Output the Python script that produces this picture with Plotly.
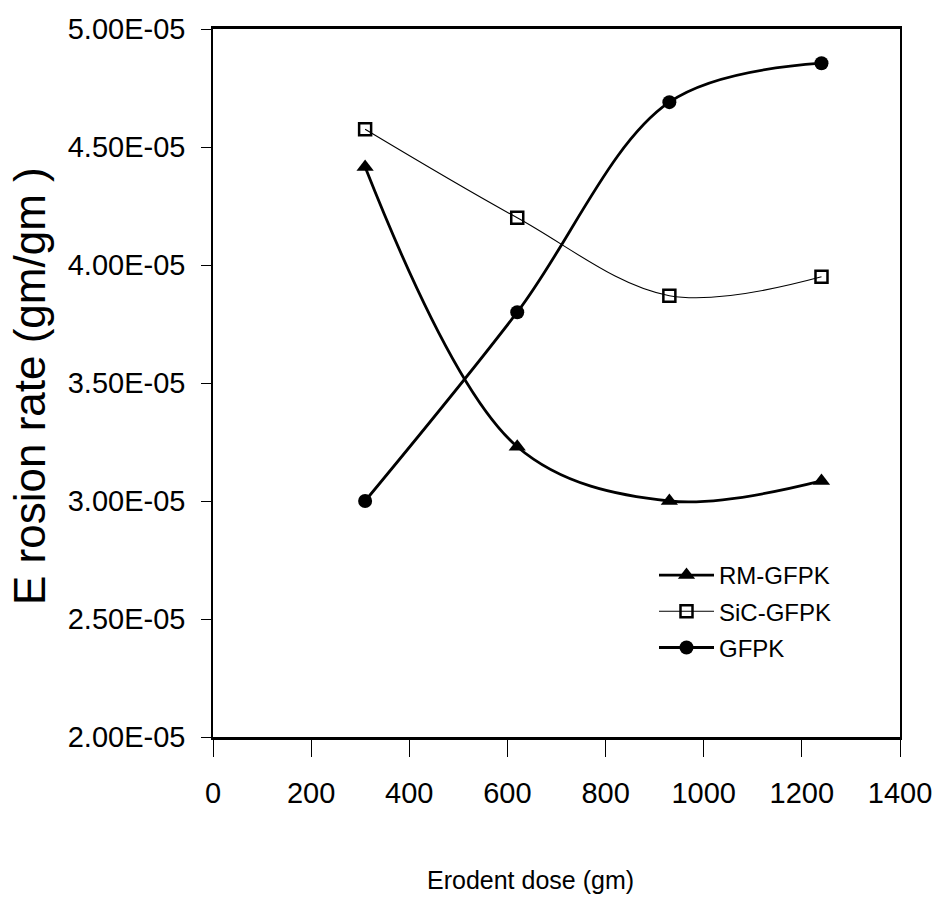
import plotly.graph_objects as go

dose = [310, 620, 930, 1240]
rm_gfpk = [4.415e-05, 3.23e-05, 3.00e-05, 3.085e-05]
sic_gfpk = [4.575e-05, 4.20e-05, 3.87e-05, 3.95e-05]
gfpk = [3.00e-05, 3.80e-05, 4.69e-05, 4.855e-05]

y_ticks = [2.0e-05, 2.5e-05, 3.0e-05, 3.5e-05, 4.0e-05, 4.5e-05, 5.0e-05]
y_ticktext = [f"{v:.2E}" for v in y_ticks]
x_ticks = [0, 200, 400, 600, 800, 1000, 1200, 1400]

x_title = "Erodent dose (gm)"
y_title = "E rosion rate (gm/gm )"

FONT = "Liberation Sans, Arial, sans-serif"

L, R, T, B = 213, 36, 29, 183
W, H = 936, 920
PW, PH = W - L - R, H - T - B

fig = go.Figure()
fig.add_trace(go.Scatter(
    x=dose, y=rm_gfpk, name="RM-GFPK", mode="lines+markers", legendgroup="a",
    line=dict(color="black", width=2.8, shape="spline", smoothing=1.0),
    marker=dict(symbol="triangle-up", size=15, color="black"),
))
fig.add_trace(go.Scatter(
    x=dose, y=sic_gfpk, name="SiC-GFPK", mode="lines+markers", legendgroup="b",
    line=dict(color="black", width=1.1, shape="spline", smoothing=1.0),
    marker=dict(symbol="square-open", size=12, color="black", line=dict(width=2.5, color="black")),
))
fig.add_trace(go.Scatter(
    x=dose, y=gfpk, name="GFPK", mode="lines+markers", legendgroup="c",
    line=dict(color="black", width=2.8, shape="spline", smoothing=1.0),
    marker=dict(symbol="circle", size=14, color="black"),
))

fig.update_layout(
    width=W, height=H,
    margin=dict(l=L, r=R, t=T, b=B),
    paper_bgcolor="white", plot_bgcolor="white",
    showlegend=True,
    legend=dict(x=(654 - L) / PW, y=(737 - 553) / PH, xanchor="left", yanchor="top",
                font=dict(family=FONT, size=24, color="black"),
                bgcolor="rgba(0,0,0,0)", itemwidth=55, traceorder="grouped", tracegroupgap=2),
    font=dict(family=FONT, color="black"),
    annotations=[
        dict(text=y_title, textangle=-90, xref="paper", yref="paper",
             x=-(L - 29) / PW, y=(737 - 386) / PH, xanchor="center", yanchor="middle",
             showarrow=False, font=dict(family=FONT, size=44, color="black")),
        dict(text=x_title, xref="paper", yref="paper",
             x=(530 - L) / PW, y=-(880 - 737) / PH, xanchor="center", yanchor="middle",
             showarrow=False, font=dict(family=FONT, size=25, color="black")),
    ],
)
fig.update_xaxes(
    range=[0, 1400], tickvals=x_ticks, ticks="outside", ticklen=17, tickwidth=1.2,
    tickcolor="black", showgrid=False, zeroline=False, automargin=False,
    showline=True, linecolor="black", linewidth=3, mirror=True,
    tickfont=dict(family=FONT, size=29, color="black"), ticklabelstandoff=11,
)
fig.update_yaxes(
    range=[2.0e-05, 5.0e-05], tickvals=y_ticks, ticktext=y_ticktext, ticks="outside",
    ticklen=10, tickwidth=1.2, tickcolor="black", showgrid=False, zeroline=False,
    showline=True, linecolor="black", linewidth=1.5, mirror=True, automargin=False,
    tickfont=dict(family=FONT, size=29, color="black"), ticklabelstandoff=10,
)

fig.write_html(
    "out.html",
    config={"displayModeBar": False},
    post_script="document.body.style.margin='0';document.body.style.overflow='hidden';",
)
